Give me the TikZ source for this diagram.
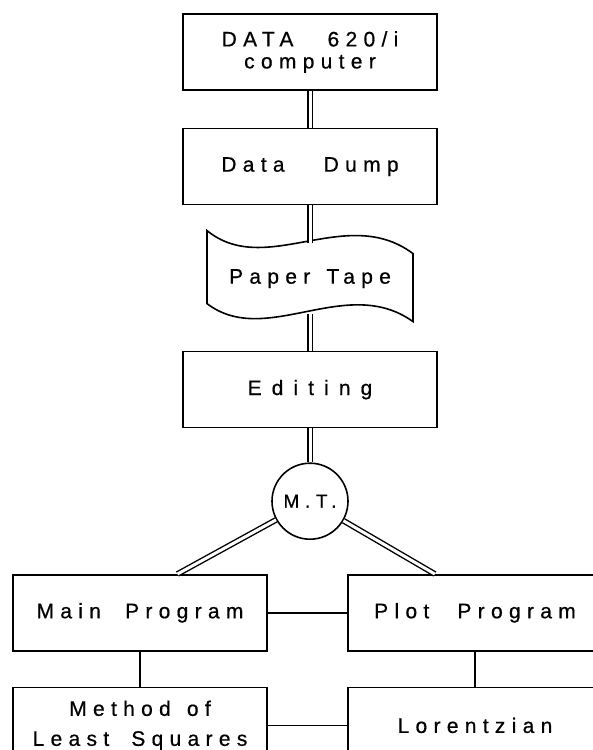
\documentclass[tikz,border=0pt]{standalone}
\usepackage{fontspec}
\setmainfont{Liberation Sans}[LetterSpace=30,FakeBold=0.6]
\usetikzlibrary{positioning,calc}

\begin{document}
\begin{tikzpicture}[x=1pt,y=1pt,node distance=35pt,
box/.style={draw,line width=1.6pt,minimum width=254pt,minimum height=76pt,align=center,font=\fontsize{21}{23}\selectfont},
tapebox/.style={minimum width=206pt,minimum height=70pt,font=\fontsize{21}{23}\selectfont},
drum/.style={draw,circle,line width=1.6pt,minimum size=76pt,inner sep=0pt,font=\fontsize{19}{23}\selectfont},
dbl/.style={double,double distance=3pt,line width=1.4pt},
link/.style={line width=1.6pt}]
\clip (0,0) rectangle (593,-750);
\node[box] (data) at (310,-52) {DATA \hspace{22pt}620/i\\[-1pt]computer};
\node[box,below=37pt of data] (dump) {Data \hspace{27pt}Dump};
\node[tapebox,below=36pt of dump,yshift=-2pt] (tape) {Paper \hspace{4pt}Tape};
\draw[link,shift={(tape.center)}] (-103,48) .. controls (-44,0) and (36,75) .. (103,25) -- (103,-43) .. controls (36,5) and (-44,-70) .. (-103,-25) -- cycle;
\node[box,below=37pt of tape] (edit) {\addfontfeature{LetterSpace=48}Editing};
\node[drum,below=34pt of edit] (mt) {M.T.};
\node[box,below=34pt of mt,xshift=-170pt] (main) {Main \hspace{12pt}Program};
\node[box,below=34pt of mt,xshift=165pt] (plot) {Plot \hspace{16pt}Program};
\node[box,below=of main] (lsq) {Method \hspace{4pt}of\\[7pt]Least \hspace{10pt}Squares};
\node[box,below=of plot] (lor) {Lorentzian};
\draw[dbl] (data) -- (dump);
\draw[dbl] (dump) -- (tape);
\draw[dbl] (tape) -- (edit);
\draw[dbl] (edit) -- (mt);
\draw[dbl] (mt) -- (main.46);
\draw[dbl] (mt) -- (plot.136);
\draw[link] (main) -- (plot);
\draw[link] (main) -- (lsq);
\draw[link] (plot) -- (lor);
\draw[link] (lsq) -- (lor);
\end{tikzpicture}
\end{document}
